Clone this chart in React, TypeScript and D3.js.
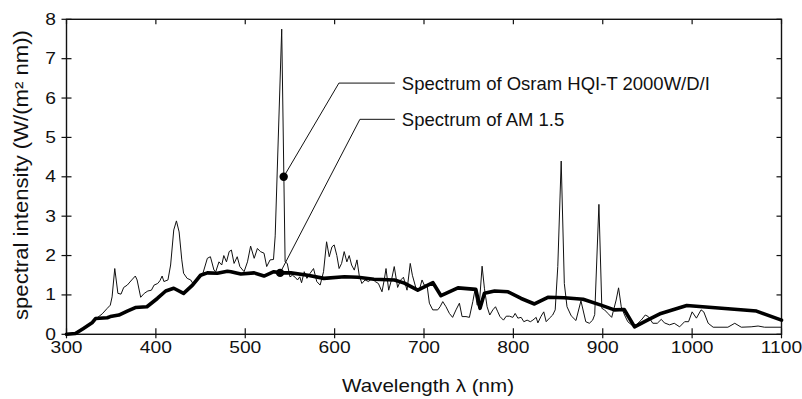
import React from "react";
import * as d3 from "d3";

const xTicks = [300, 400, 500, 600, 700, 800, 900, 1000, 1100];
const yTicks = [0, 1, 2, 3, 4, 5, 6, 7, 8];

const amWavelength = [300, 310, 319, 329, 332.5, 345.6, 349, 358.6, 368, 377, 390, 401.6, 411, 420, 431, 441, 450, 457.6, 468.8, 480, 484, 495, 510, 521, 532, 540, 551, 570, 588, 611, 626, 644, 667, 678, 693, 710, 719, 738, 758, 762.7, 767.6, 779, 794, 808.7, 823.6, 838.6, 857, 878, 898, 913, 924, 935.6, 950, 965, 994, 1033, 1072, 1100];
const amValue = [0, 0.02, 0.15, 0.3, 0.4, 0.42, 0.45, 0.49, 0.59, 0.68, 0.7, 0.91, 1.1, 1.17, 1.04, 1.25, 1.5, 1.56, 1.55, 1.6, 1.59, 1.53, 1.56, 1.48, 1.59, 1.56, 1.56, 1.5, 1.42, 1.46, 1.45, 1.4, 1.38, 1.3, 1.12, 1.31, 0.98, 1.18, 1.14, 0.66, 1.04, 1.1, 1.08, 0.91, 0.77, 0.94, 0.93, 0.89, 0.74, 0.62, 0.63, 0.19, 0.36, 0.53, 0.73, 0.66, 0.59, 0.36];

const hqiWavelength = [300, 310, 320, 330, 335, 340, 345.6, 349, 351, 354, 357.5, 361, 364, 368, 373, 377, 379, 383, 387, 391, 395, 398, 402, 404.5, 407, 409, 413.5, 416.5, 420, 423, 426, 429, 431, 435, 439, 442.6, 446.4, 452, 457.6, 461, 465, 467, 470.6, 473.7, 476, 479, 482, 484.5, 487.5, 491, 494, 498.7, 502.5, 506, 510, 513.6, 517, 521, 524, 527.8, 531.6, 533.5, 540.8, 544.6, 547, 550, 552.8, 555.8, 558.5, 561, 563, 566, 569, 572.6, 576.4, 580, 583.8, 587.6, 591, 594, 597, 599.5, 602.5, 605, 607.8, 610.7, 613.7, 616.3, 619, 622, 625, 627.5, 630.5, 634, 638, 641.7, 645.4, 649, 653, 655.5, 657.5, 660.5, 664, 666.7, 670.5, 674, 677, 681, 684.6, 687, 691, 694.7, 697.8, 700.3, 703.4, 706, 709.8, 715.3, 718, 721, 724.6, 728.4, 732, 735.8, 739.6, 742.6, 747, 750.8, 754.6, 757, 759.5, 762, 765, 767.6, 770.6, 773.6, 777, 780, 782.6, 785, 788.9, 792, 795.6, 799.4, 802, 805, 808.7, 811.7, 815.4, 819, 821.8, 825.5, 827.4, 831, 834, 836.7, 840.4, 844, 846.8, 849.7, 853.5, 857, 860, 864.7, 870, 875.6, 881, 885, 888.7, 891, 895.7, 899, 902, 905.8, 910, 915, 917.7, 920.7, 924.4, 928, 933.8, 937.5, 943, 947.6, 951, 956, 961, 965.5, 969, 974.8, 980, 986, 991.6, 996, 1000, 1004.8, 1010, 1013, 1018, 1023.5, 1040, 1047.7, 1055, 1066, 1073.8, 1081, 1100];
const hqiValue = [0, 0.03, 0.16, 0.34, 0.43, 0.52, 0.66, 0.74, 0.95, 1.67, 1.04, 1.02, 1.19, 1.25, 1.38, 1.48, 1.38, 0.94, 1.04, 1.1, 1.12, 1.25, 1.29, 1.36, 1.48, 1.34, 1.38, 1.76, 2.65, 2.88, 2.6, 1.89, 1.55, 1.42, 1.38, 1.25, 1.38, 1.5, 1.93, 1.97, 1.63, 1.59, 1.84, 1.76, 2.0, 1.84, 2.1, 2.14, 1.8, 1.97, 1.72, 1.59, 1.84, 2.24, 1.93, 2.18, 2.1, 2.06, 1.72, 1.89, 1.9, 2.5, 7.75, 1.84, 1.8, 1.46, 1.5, 1.45, 1.38, 1.46, 1.31, 1.59, 1.42, 1.55, 1.67, 1.34, 1.25, 1.59, 2.35, 1.97, 2.22, 2.27, 2.0, 1.67, 1.8, 2.1, 1.84, 2.0, 1.76, 1.63, 1.89, 1.5, 1.29, 1.38, 1.34, 1.42, 1.34, 1.29, 1.08, 1.38, 1.67, 1.12, 1.42, 1.72, 1.19, 1.38, 1.45, 1.12, 1.8, 1.5, 1.17, 1.12, 1.38, 1.25, 1.25, 0.79, 0.62, 0.62, 0.7, 0.83, 0.7, 0.53, 0.43, 0.62, 0.79, 0.45, 0.45, 0.43, 0.83, 1.12, 0.74, 0.79, 1.73, 1.17, 0.7, 0.49, 0.62, 0.7, 0.57, 0.45, 0.36, 0.46, 0.46, 0.43, 0.53, 0.41, 0.43, 0.32, 0.36, 0.32, 0.36, 0.43, 0.29, 0.46, 0.57, 0.32, 0.41, 0.49, 0.62, 1.72, 4.4, 1.29, 0.7, 0.47, 0.35, 0.85, 0.32, 0.28, 0.36, 0.5, 3.3, 0.66, 0.62, 0.53, 0.43, 0.87, 1.18, 0.7, 0.49, 0.32, 0.21, 0.24, 0.36, 0.49, 0.45, 0.28, 0.28, 0.38, 0.29, 0.24, 0.28, 0.19, 0.32, 0.32, 0.57, 0.41, 0.62, 0.57, 0.28, 0.18, 0.18, 0.28, 0.18, 0.19, 0.21, 0.18, 0.18];

const legendLabels = ["Spectrum of Osram HQI-T 2000W/D/I", "Spectrum of AM 1.5"];
// leader: dot (wavelength, value), elbow (wavelength, value), end wavelength
const leaderDot = [[543, 4.0], [539, 1.56]];
const leaderElbow = [[604.8, 6.38], [628.3, 5.46]];
const leaderEndX = [667.4, 667.4];
const labelX = 675.2;

const FONT = "'Liberation Sans', Arial, Helvetica, sans-serif";

export default function App() {
  const W = 802, H = 399;
  const x = d3.scaleLinear().domain([300, 1100]).range([66.5, 781.5]);
  const y = d3.scaleLinear().domain([0, 8]).range([334.3, 19.3]);

  const line = d3.line<[number, number]>().x(d => x(d[0])).y(d => y(d[1]));
  const amPts = amWavelength.map((w, i) => [w, amValue[i]] as [number, number]);
  const hqiPts = hqiWavelength.map((w, i) => [w, hqiValue[i]] as [number, number]);

  const x0 = x(300), x1 = x(1100), y0 = y(0), y1 = y(8);

  return (
    <svg width={W} height={H} style={{ position: "absolute", left: 0, top: 0, background: "#fff" }} fontFamily={FONT}>
      <rect x={0} y={0} width={W} height={H} fill="#fff" />
      <rect x={x0} y={y1} width={x1 - x0} height={y0 - y1} fill="none" stroke="#111" strokeWidth={1.4} />
      {xTicks.map(t => (
        <g key={"xt" + t}>
          <line x1={x(t)} x2={x(t)} y1={y0 - 6} y2={y0 + 4} stroke="#111" strokeWidth={1.2} />
          <line x1={x(t)} x2={x(t)} y1={y1} y2={y1 + 5} stroke="#111" strokeWidth={1.2} />
          <text transform={`translate(${x(t)},${353}) scale(1.18,1)`} textAnchor="middle" fontSize={16.3} fill="#111">{t}</text>
        </g>
      ))}
      {yTicks.map(t => (
        <g key={"yt" + t}>
          <line x1={x0 - 5} x2={x0 + 5} y1={y(t)} y2={y(t)} stroke="#111" strokeWidth={1.2} />
          <line x1={x1 - 5} x2={x1} y1={y(t)} y2={y(t)} stroke="#111" strokeWidth={1.2} />
          <text transform={`translate(${56},${y(t) + 5.5}) scale(1.18,1)`} textAnchor="end" fontSize={16.3} fill="#111">{t}</text>
        </g>
      ))}
      <path d={line(hqiPts) || ""} fill="none" stroke="#111" strokeWidth={1} strokeLinejoin="round" />
      <path d={line(amPts) || ""} fill="none" stroke="#000" strokeWidth={3.6} strokeLinejoin="round" strokeLinecap="round" />
      {leaderDot.map((d, i) => (
        <g key={"ld" + i}>
          <polyline
            points={`${x(d[0])},${y(d[1])} ${x(leaderElbow[i][0])},${y(leaderElbow[i][1])} ${x(leaderEndX[i])},${y(leaderElbow[i][1])}`}
            fill="none" stroke="#111" strokeWidth={1} />
          <circle cx={x(d[0])} cy={y(d[1])} r={4.2} fill="#000" />
          <text x={x(labelX)} y={y(leaderElbow[i][1]) + 7} fontSize={18.5} fill="#111">{legendLabels[i]}</text>
        </g>
      ))}
      <text x={428} y={392} textAnchor="middle" fontSize={19} textLength={172} lengthAdjust="spacingAndGlyphs" fill="#111">Wavelength λ (nm)</text>
      <text transform={`translate(28,175) rotate(-90)`} textAnchor="middle" fontSize={19.5} textLength={290} lengthAdjust="spacingAndGlyphs" fill="#111">spectral intensity (W/(m² nm))</text>
    </svg>
  );
}
